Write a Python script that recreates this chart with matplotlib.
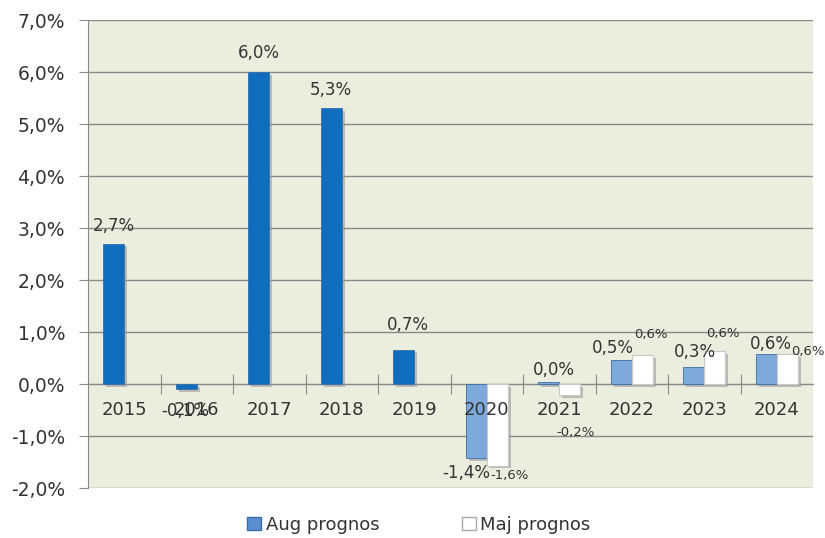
import matplotlib
matplotlib.use("Agg")
import matplotlib.pyplot as plt
import matplotlib.patheffects as pe
from matplotlib.patches import Patch
import numpy as np

years = ["2015", "2016", "2017", "2018", "2019", "2020", "2021", "2022", "2023", "2024"]
aug = [2.7, -0.1, 6.0, 5.3, 0.66, -1.42, 0.03, 0.46, 0.33, 0.58]
maj = [np.nan, np.nan, np.nan, np.nan, np.nan, -1.57, -0.22, 0.56, 0.63, 0.58]
ytick_vals = [-2, -1, 0, 1, 2, 3, 4, 5, 6, 7]

def fmt(v):
    return f"{v:.1f}".replace(".", ",") + "%"

fig = plt.figure(figsize=(8.25, 5.38), dpi=100)
ax = fig.add_axes([88/825, 1-488/538, (813-88)/825, (488-20)/538])
ax.set_facecolor("#ebeddf")

x = np.arange(len(years))
w = 0.29
aug_colors = ["#0f6dbd"] * 5 + ["#7ea9da"] * 5
shadow = [pe.SimplePatchShadow(offset=(2, -2), shadow_rgbFace="#9a9a9a", alpha=0.6), pe.Normal()]
b1 = ax.bar(x - w/2, aug, w, color=aug_colors, edgecolor="#3a6ea5", linewidth=0.6, zorder=3)
b2 = ax.bar(x + w/2, maj, w, color="white", edgecolor="#c8c8c8", linewidth=0.8, zorder=3)
for b in list(b1) + list(b2):
    b.set_path_effects(shadow)

ax.set_ylim(-2, 7)
ax.set_xlim(-0.5, len(years) - 0.5)
ax.set_yticks(ytick_vals)
ax.set_yticklabels([fmt(v) for v in ytick_vals], fontsize=13.5, color="#333333")
ax.yaxis.grid(True, color="#8a8a8a", linewidth=1.0, zorder=0)
ax.set_axisbelow(True)
ax.tick_params(axis="y", length=6.5, color="#8a8a8a", pad=10)

ax.spines["bottom"].set_position(("data", 0))
ax.spines["bottom"].set_color("#8a8a8a")
ax.spines["left"].set_color("#8a8a8a")
ax.spines["top"].set_visible(False)
ax.spines["right"].set_visible(False)
ax.set_xticks(x[:-1] + 0.5)
ax.set_xticklabels([])
ax.set_xticks(x, minor=True)
ax.set_xticklabels(years, minor=True, fontsize=13, color="#333333")
ax.tick_params(axis="x", which="major", direction="inout", length=14, color="#8a8a8a")
ax.tick_params(axis="x", which="minor", length=0, pad=12)
ax.xaxis.set_zorder(4)

# Aug labels: offsets in points
aug_off = {0: (0, 13), 1: (-1, -16), 2: (0, 14), 3: (0, 13), 4: (3, 18),
           5: (-7, -11), 6: (4, 9), 7: (-6, 9), 8: (1, 11), 9: (3, 7)}
for i, v in enumerate(aug):
    dx, dy = aug_off[i]
    ax.annotate(fmt(v), (x[i] - w/2, v), xytext=(dx, dy), textcoords="offset points",
                ha="center", va="center", fontsize=12, color="#333333", zorder=6)

# Maj labels
maj_off = {5: (9, -7), 6: (4, -27), 7: (6.5, 15), 8: (5.5, 13), 9: (15, 2)}
for i, v in enumerate(maj):
    if np.isnan(v):
        continue
    dx, dy = maj_off[i]
    ax.annotate(fmt(v), (x[i] + w/2, v), xytext=(dx, dy), textcoords="offset points",
                ha="center", va="center", fontsize=9.5, color="#333333", zorder=6)

# legend
h1 = Patch(facecolor="#5b8fd0", edgecolor="#3a6ea5")
h2 = Patch(facecolor="white", edgecolor="#aaaaaa")
leg = fig.legend([h1, h2], ["Aug prognos", "Maj prognos"], loc="center",
                 bbox_to_anchor=(419/825, 1-525/538), ncol=2, frameon=False,
                 fontsize=13, handlelength=0.75, handleheight=0.75, handletextpad=0.25,
                 columnspacing=4.6)
for t in leg.get_texts():
    t.set_color("#333333")

fig.savefig("out.png", dpi=100, facecolor="white")
